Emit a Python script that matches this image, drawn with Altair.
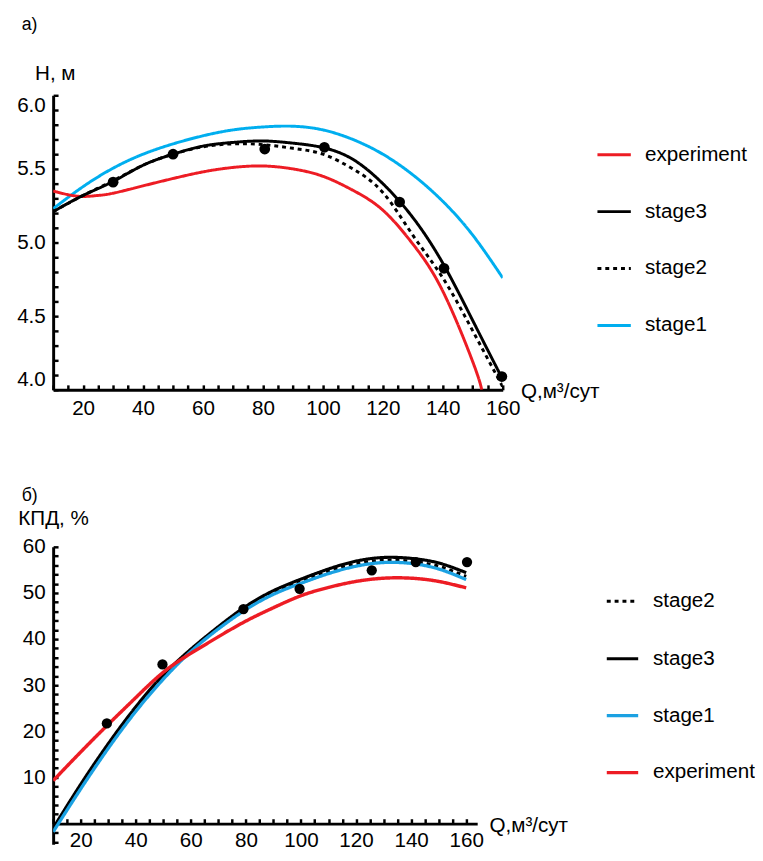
import altair as alt
import pandas as pd

FONT = "Liberation Sans"

# ---------------- panel а): H(Q) ----------------
qa = [10, 20, 30, 40, 50, 60, 70, 80, 90, 100, 110, 120, 130, 140, 150, 160]
h_stage1 = [5.23, 5.38, 5.505, 5.60, 5.67, 5.725, 5.765, 5.785, 5.79, 5.765, 5.70, 5.60, 5.46, 5.28, 5.05, 4.76]
h_stage3 = [5.21, 5.32, 5.415, 5.525, 5.60, 5.655, 5.68, 5.69, 5.675, 5.645, 5.565, 5.40, 5.17, 4.86, 4.47, 4.07]
h_stage2 = [5.21, 5.32, 5.42, 5.525, 5.60, 5.65, 5.67, 5.665, 5.64, 5.60, 5.50, 5.34, 5.05, 4.76, 4.40, 4.02]
q_exp_a = [10, 15, 20, 25, 30, 40, 50, 60, 70, 80, 90, 100, 110, 120, 130, 140, 150, 153]
h_exp = [5.35, 5.325, 5.313, 5.32, 5.335, 5.385, 5.435, 5.48, 5.51, 5.52, 5.50, 5.45, 5.355, 5.22, 4.99, 4.67, 4.19, 4.0]
q_pts_a = [30, 50, 80.6, 100.5, 125.6, 140.4, 159.7]
h_pts = [5.41, 5.60, 5.635, 5.647, 5.275, 4.825, 4.09]

order_a = ["experiment", "stage3", "stage2", "stage1"]
colors_a = ["#ED1C24", "#000000", "#000000", "#00AEEF"]
dash_a = [[1, 0], [1, 0], [4, 4], [1, 0]]
width_a = [3, 3, 3, 3]

xa_ticks = list(range(10, 161, 5))          # labelled every 20
ya_ticks = [round(4 + 0.1 * i, 1) for i in range(21)]   # labelled every 0.5

# ---------------- panel б): КПД(Q) ----------------
qb = [10, 20, 30, 40, 50, 60, 70, 80, 90, 100, 110, 120, 130, 140, 150, 160]
e_exp = [9.3, 15.5, 21.5, 27.3, 32.8, 36.9, 40.5, 43.9, 46.8, 49.4, 51.2, 52.5, 53.2, 53.2, 52.5, 51.1]
e_stage3 = [-1.0, 8.5, 17.3, 25.3, 32.2, 37.8, 42.7, 47.1, 50.5, 53.0, 55.2, 56.9, 57.7, 57.5, 56.5, 54.4]
e_stage1 = [-1.8, 7.5, 16.3, 24.3, 31.3, 37.3, 42.2, 46.4, 49.7, 52.1, 54.2, 55.8, 56.6, 56.4, 55.2, 52.9]
e_stage2 = [-1.4, 8.0, 16.8, 24.8, 31.8, 37.5, 42.4, 46.7, 50.1, 52.5, 54.7, 56.3, 57.1, 56.9, 55.8, 53.6]
q_pts_b = [29.5, 49.7, 79.1, 99.5, 125.7, 141.7, 160.3]
e_pts = [21.7, 34.5, 46.5, 50.9, 54.9, 56.7, 56.7]

order_b = ["stage2", "stage3", "stage1", "experiment"]
colors_b = ["#000000", "#000000", "#1BA1E2", "#ED1C24"]
dash_b = [[4, 4], [1, 0], [1, 0], [1, 0]]
width_b = [3, 3.5, 4.5, 4.5]

xb_ticks = list(range(10, 161, 5))          # labelled every 20
yb_ticks = list(range(-4, 61, 2))           # labelled 10..60


def rows(series, qs, vs):
    return [{"Q": q, "V": v, "series": series} for q, v in zip(qs, vs)]


dfa = pd.DataFrame(
    rows("stage1", qa, h_stage1) + rows("experiment", q_exp_a, h_exp)
    + rows("stage2", qa, h_stage2) + rows("stage3", qa, h_stage3)
)
dfa_pts = pd.DataFrame({"Q": q_pts_a, "V": h_pts})

dfb = pd.DataFrame(
    rows("stage2", qb, e_stage2) + rows("stage3", qb, e_stage3)
    + rows("stage1", qb, e_stage1) + rows("experiment", qb, e_exp)
)
dfb_pts = pd.DataFrame({"Q": q_pts_b, "V": e_pts})

TICK = 5  # inward ticks


def panel(df, dfp, order, colors, dashes, widths, xdom, ydom, W, H,
          xticks, xlabel_expr, yticks, ylabel_expr, yfmt, x_axis_at, xlab_pad,
          ytitle, ytitle_x, ytitle_y, xtitle_x, title, title_offset,
          lx, ly, lsize, lpad, pt_size, ybaseline=None):
    xs = alt.Scale(domain=xdom, nice=False, zero=False)
    ys = alt.Scale(domain=ydom, nice=False, zero=False)
    x_offset = -round(H * (x_axis_at - ydom[0]) / (ydom[1] - ydom[0]))
    x_axis = alt.Axis(
        orient="bottom", offset=x_offset, values=xticks, format="d", labelExpr=xlabel_expr,
        labelOverlap=False,
        ticks=True, tickSize={"expr": f"-{TICK}"}, tickColor="black", tickWidth=2.5,
        domain=True, domainWidth=3, domainColor="black",
        labelFontSize=21, labelFont=FONT, labelColor="black", labelPadding=xlab_pad + TICK,
        labelFlush=False, grid=False,
        title="Q,м³/сут", titleFont=FONT, titleFontSize=21, titleFontWeight="normal",
        titleColor="black", titleX=xtitle_x, titleY=8, titleAlign="left",
        titleBaseline="alphabetic", titleAngle=0,
    )
    yaxis_kw = dict(
        orient="left", values=yticks, format=yfmt, labelExpr=ylabel_expr,
        labelOverlap=False,
        ticks=True, tickSize={"expr": f"-{TICK}"}, tickColor="black", tickWidth=2.5,
        domain=True, domainWidth=3, domainColor="black",
        labelFontSize=21, labelFont=FONT, labelColor="black", labelPadding=8 + TICK,
        labelFlush=False, grid=False,
        title=ytitle, titleFont=FONT, titleFontSize=21, titleFontWeight="normal",
        titleColor="black", titleX=ytitle_x, titleY=ytitle_y, titleAlign="left",
        titleBaseline="alphabetic", titleAngle=0,
    )
    if ybaseline is not None:
        yaxis_kw["labelBaseline"] = ybaseline
    y_axis = alt.Axis(**yaxis_kw)
    leg = alt.Legend(
        title=None, orient="none", legendX=lx, legendY=ly, symbolType="stroke",
        symbolSize=lsize, symbolStrokeWidth=3, labelOffset=13, rowPadding=lpad,
        labelFontSize=21, labelFont=FONT, labelColor="black", padding=0,
    )
    lines = alt.Chart(df).mark_line(interpolate="natural", clip=True).encode(
        x=alt.X("Q:Q", scale=xs, axis=x_axis),
        y=alt.Y("V:Q", scale=ys, axis=y_axis),
        color=alt.Color("series:N", scale=alt.Scale(domain=order, range=colors), legend=leg),
        strokeDash=alt.StrokeDash("series:N", scale=alt.Scale(domain=order, range=dashes), legend=leg),
        strokeWidth=alt.StrokeWidth("series:N", scale=alt.Scale(domain=order, range=widths), legend=None),
    )
    pts = alt.Chart(dfp).mark_circle(size=pt_size, color="black", opacity=1).encode(
        x=alt.X("Q:Q", scale=xs, axis=None),
        y=alt.Y("V:Q", scale=ys, axis=None),
    )
    return alt.layer(lines, pts).resolve_axis(x="independent", y="independent").properties(
        width=W, height=H,
        view=alt.ViewBackground(strokeWidth=0, stroke="transparent"),
        title=alt.TitleParams(title, anchor="start", frame="group", dx=-32, offset=title_offset,
                              fontSize=18, font=FONT, fontWeight="normal", color="black"),
    )


top = panel(
    dfa, dfa_pts, order_a, colors_a, dash_a, width_a, [10, 160], [4, 6], 458, 300,
    xa_ticks, "datum.value % 20 === 0 ? datum.label : ''",
    ya_ticks, "abs(round(datum.value * 10) % 5) == 0 ? datum.label : ''", ".1f", 4, 8,
    "H, м", -19, -16, 476, "а)", 30, 553, 42, 1156, 29, 120,
    ybaseline={"condition": [{"test": "datum.value >= 5.95", "value": "top"},
                             {"test": "datum.value <= 4.05", "value": "bottom"}],
               "value": "middle"},
)

bottom = panel(
    dfb, dfb_pts, order_b, colors_b, dash_b, width_b, [10, 164], [-4.5, 60], 432, 303,
    xb_ticks, "datum.value % 20 === 0 ? datum.label : ''",
    yb_ticks, "(datum.value % 10 === 0 && datum.value > 0) ? datum.label : ''", "d", 0, 6,
    "КПД, %", -36, -23, 444, "б)", 3, 562, 38, 1024, 30, 110,
)

chart = alt.vconcat(top, bottom, spacing=70).resolve_scale(
    x="independent", y="independent", color="independent",
    strokeDash="independent", strokeWidth="independent",
).resolve_legend(color="independent", strokeDash="independent").properties(
    padding={"left": 8, "top": 0, "right": 0, "bottom": -5}
).configure_view(strokeWidth=0, stroke="transparent").configure(font=FONT)

chart.save("out.html", embed_options={"renderer": "svg", "actions": False})
